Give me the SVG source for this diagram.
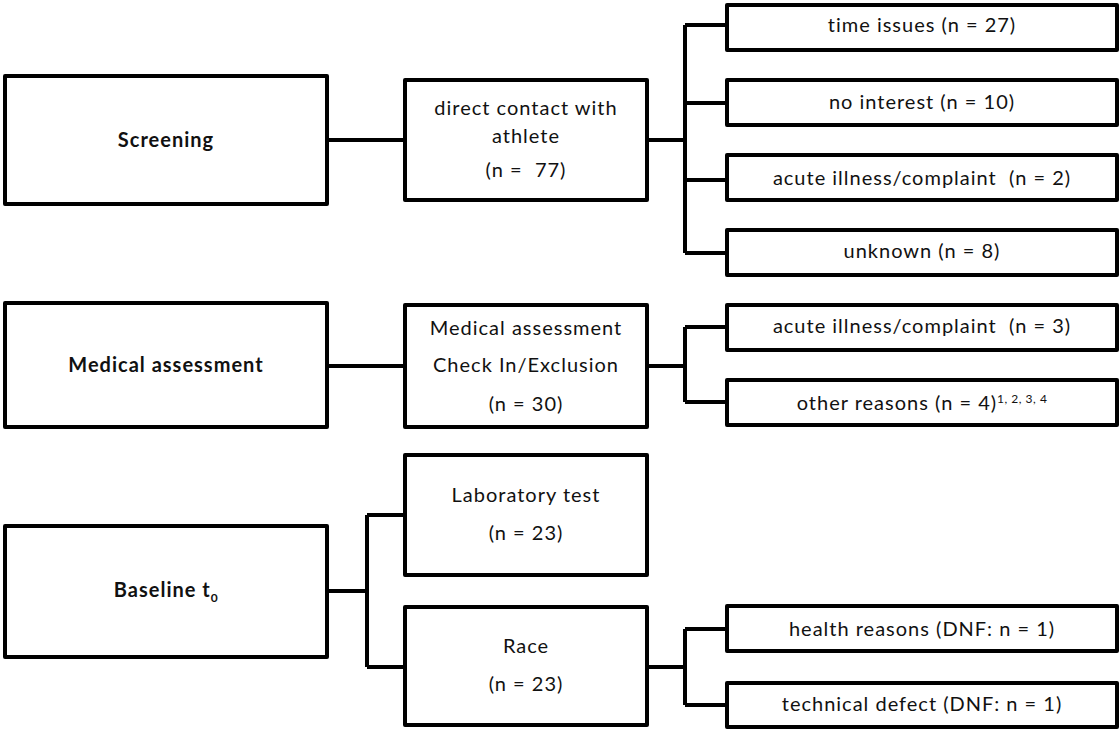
<svg xmlns="http://www.w3.org/2000/svg" width="1120" height="729" viewBox="0 0 1120 729">
<style>
.box{fill:#fff;stroke:#000;stroke-width:4;stroke-linejoin:round}
.ln{fill:none;stroke:#000;stroke-width:4;stroke-linejoin:round}
text{font-family:Lato,"Open Sans","Liberation Sans",sans-serif;font-size:20px;letter-spacing:1px;fill:#111;text-anchor:middle}
.b{font-weight:bold}
.sup{font-size:12px;letter-spacing:0.5px}
</style>
<rect width="1120" height="729" fill="#fff"/>
<g id="connectors">
<path class="ln" d="M327 140H405"/>
<path class="ln" d="M647 140H685M685 25V253M685 25H727M685 103H727M685 180H727M685 253H727"/>
<path class="ln" d="M327 366H405"/>
<path class="ln" d="M647 366H685M685 327V402M685 327H727M685 402H727"/>
<path class="ln" d="M327 591H367M367 515V667M367 515H405M367 667H405"/>
<path class="ln" d="M647 667H685M685 629V705M685 629H727M685 705H727"/>
</g>
<g id="screening"><rect class="box" x="5" y="76" width="322" height="128"/><text class="b" x="166" y="147">Screening</text></g>
<g id="direct-contact"><rect class="box" x="405" y="80" width="242" height="120"/><text x="526" y="115">direct contact with</text><text x="526" y="143">athlete</text><text x="526" y="177" xml:space="preserve">(n =  77)</text></g>
<g id="time-issues"><rect class="box" x="727" y="5" width="390" height="45"/><text x="922" y="32">time issues (n = 27)</text></g>
<g id="no-interest"><rect class="box" x="727" y="80" width="390" height="45"/><text x="922" y="109">no interest (n = 10)</text></g>
<g id="acute-1"><rect class="box" x="727" y="155" width="390" height="45"/><text x="922" y="185" xml:space="preserve">acute illness/complaint  (n = 2)</text></g>
<g id="unknown"><rect class="box" x="727" y="230" width="390" height="45"/><text x="922" y="258">unknown (n = 8)</text></g>
<g id="medical"><rect class="box" x="5" y="303" width="322" height="124"/><text class="b" x="166" y="372">Medical assessment</text></g>
<g id="medical-check"><rect class="box" x="405" y="305" width="242" height="122"/><text x="526" y="335">Medical assessment</text><text x="526" y="372">Check In/Exclusion</text><text x="526" y="411">(n = 30)</text></g>
<g id="acute-2"><rect class="box" x="727" y="305" width="390" height="45"/><text x="922" y="333" xml:space="preserve">acute illness/complaint  (n = 3)</text></g>
<g id="other-reasons"><rect class="box" x="727" y="380" width="390" height="45"/><text x="922" y="410">other reasons (n = 4)<tspan class="sup" dy="-7">1, 2, 3, 4</tspan></text></g>
<g id="baseline"><rect class="box" x="5" y="526" width="322" height="131"/><text class="b" x="166" y="597">Baseline t<tspan class="sup" dy="5">0</tspan></text></g>
<g id="lab"><rect class="box" x="405" y="455" width="242" height="120"/><text x="526" y="502">Laboratory test</text><text x="526" y="540">(n = 23)</text></g>
<g id="race"><rect class="box" x="405" y="607" width="242" height="118"/><text x="526" y="653">Race</text><text x="526" y="691">(n = 23)</text></g>
<g id="health"><rect class="box" x="727" y="606" width="390" height="45"/><text x="922" y="636">health reasons (DNF: n = 1)</text></g>
<g id="technical"><rect class="box" x="727" y="683" width="390" height="44"/><text x="922" y="711">technical defect (DNF:  n = 1)</text></g>
</svg>
